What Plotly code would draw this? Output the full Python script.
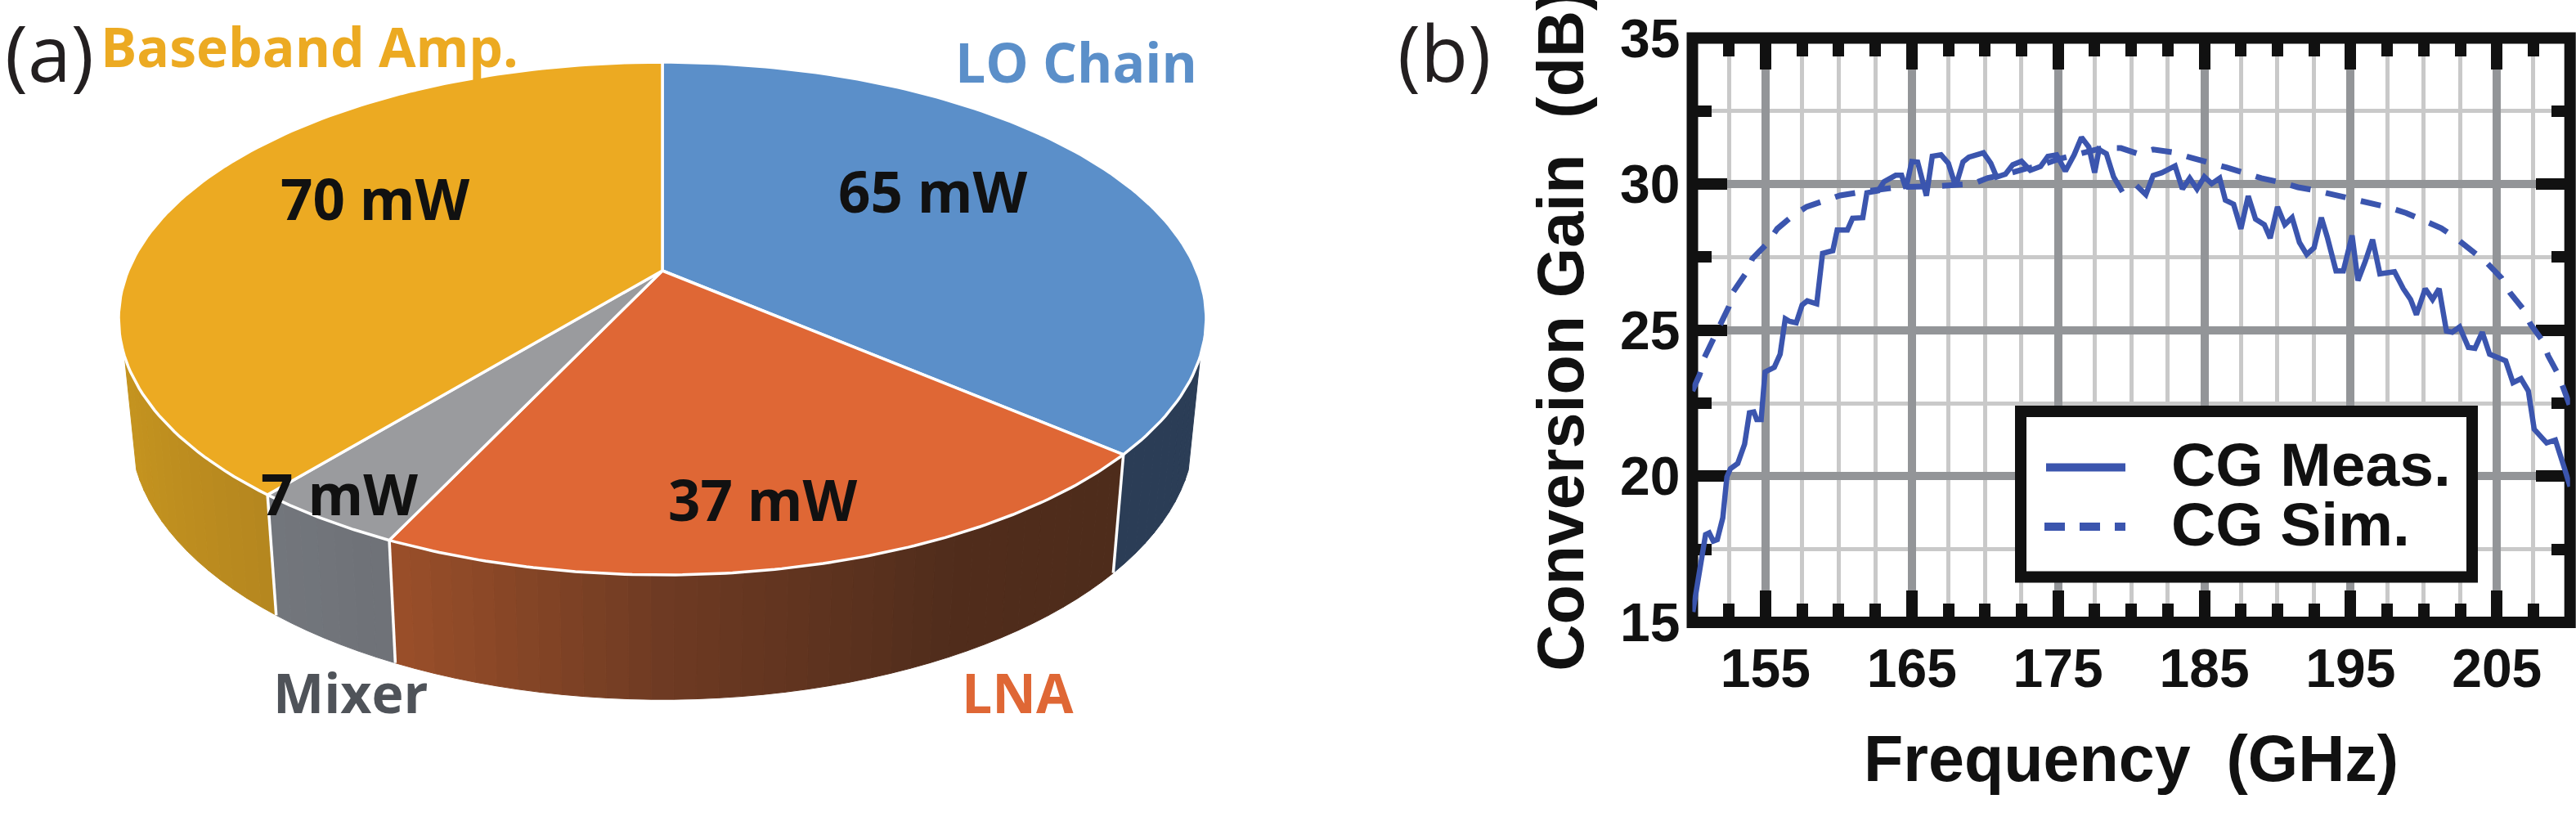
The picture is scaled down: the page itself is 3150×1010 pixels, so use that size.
import numpy as np
import plotly.graph_objects as go

# ---------- data ----------
slice_names = ["LO Chain", "LNA", "Mixer", "Baseband Amp."]
slice_mw = [65, 37, 7, 70]
slice_top = ["#5B8FC9", "#DF6735", "#9A9B9E", "#ECAA22"]
# wall shading stops: (sin(theta), colour)
slice_wall = [
    [(-1.0, "#2B3D56"), (1.0, "#2B3D56")],
    [(-0.43, "#9C502A"), (0.0, "#6F3B23"), (0.45, "#512D1C"), (1.0, "#4C2C1B")],
    [(-1.0, "#7B7F85"), (-0.43, "#6F7278")],
    [(-1.0, "#C8961F"), (-0.63, "#B5871F")],
]
slice_value_text = ["65 mW", "37 mW", "7 mW", "70 mW"]

freq_meas = [150.03, 150.9, 151.15, 151.43, 151.7, 152.08, 152.36, 152.6, 153.1, 153.57, 153.9, 154.2, 154.4, 154.7,
             154.97, 155.25, 155.6, 156.0, 156.35, 156.65, 157.1, 157.5, 157.85, 158.5, 158.9, 159.6, 159.9, 160.6,
             160.95, 161.65, 161.93, 162.7, 163.1, 163.9, 164.3, 164.6, 165.0, 165.4, 166.0, 166.4, 167.0, 167.5,
             168.0, 168.5, 168.9, 169.9, 170.4, 170.8, 171.4, 171.9, 172.5, 173.1, 173.8, 174.3, 174.9, 175.5, 176.1,
             176.6, 177.1, 177.5, 177.8, 178.3, 178.8, 179.4, 179.9,
             180.36, 181.0, 181.5, 182.1, 183.0, 183.5, 184.0, 184.5, 185.0, 185.5, 186.05, 186.44, 187.0, 187.5,
             188.0, 188.5, 189.1, 189.5, 190.0, 190.5, 191.0, 191.5, 192.0, 192.5, 193.0, 193.4, 194.0, 194.5, 195.1,
             195.5, 196.0, 196.5, 197.0, 198.0, 198.6, 199.1, 199.5, 200.1, 200.6, 201.05, 201.55, 201.95, 202.45,
             203.05, 203.5, 204.0, 204.5, 205.6, 206.1, 206.65, 207.15, 207.55, 208.4, 209.0, 209.6, 210.0]
gain_meas = [15.36, 18.0, 18.06, 17.78, 17.83, 18.58, 19.98, 20.26, 20.44, 21.1, 22.17, 22.2, 21.94, 21.94,
             23.57, 23.62, 23.73, 24.18, 25.39, 25.3, 25.25, 25.86, 26.0, 25.9, 27.63, 27.72, 28.43, 28.43,
             28.83, 28.85, 29.7, 29.77, 30.08, 30.3, 30.3, 29.85, 30.77, 30.75, 29.6, 30.95, 31.0, 30.71,
             29.92, 30.76, 30.92, 31.07, 30.71, 30.24, 30.34, 30.66, 30.78, 30.47, 30.6, 30.95, 31.0, 30.44, 31.0,
             31.6, 31.27, 30.39, 31.18, 31.04, 30.24, 29.73, None,
             29.95, 29.64, 30.29, 30.39, 30.62, 29.83, 30.2, 29.83, 30.25, 30.01, 30.2, 29.45, 29.31, 28.47,
             29.59, 28.8, 28.61, 28.15, 29.22, 28.61, 28.85, 28.0, 27.59, 27.82, 28.85, 28.19, 27.03, 27.03, 28.24,
             26.7, 27.35, 28.1, 26.93, 27.0, 26.42, 26.05, 25.53, 26.42, 26.05, 26.42, 24.97, 24.93, 25.11,
             24.41, 24.38, 24.93, 24.18, 23.95, 23.2, 23.34, 22.92, 21.61, 21.14, 21.24, 20.3, 19.65]

freq_sim = [150.0, 150.5, 150.8, 151.4, 151.8, 152.5, 152.8, 153.7, 154.1, 155.1, 155.8, 156.8, 157.8, 159.1, 160.1,
            161.6, 164.1, 166.5, 168.1, 169.2, 170.2, 171.5, 172.8, 173.6, 175.0, 176.5, 178.0, 179.3, 180.45, 181.5,
            182.8, 184.1, 185.3, 186.5, 187.7, 188.9, 190.2, 191.4, 192.6, 193.9, 195.1, 196.4, 197.6, 198.8, 200.0,
            201.2, 202.2, 203.3, 204.3, 205.3, 205.9, 206.8, 207.3, 208.1, 208.5, 209.2, 209.6, 210.0]
gain_sim = [22.92, 23.48, 24.04, 24.69, 25.16, 25.81, 26.32, 26.98, 27.45, 27.96, 28.47, 28.89, 29.22, 29.45, 29.61,
            29.73, 29.9, 29.92, 29.97, 30.01, 30.21, 30.34, 30.53, 30.6, 30.85, 31.05, 31.23, 31.23, 31.04, 31.18,
            31.09, 30.9, 30.71, 30.57, 30.39, 30.2, 30.06, 29.89, 29.78, 29.64, 29.5, 29.36, 29.2, 29.01, 28.75,
            28.49, 28.15, 27.73, 27.31, 26.79, 26.28, 25.72, 25.2, 24.65, 24.13, 23.48, 22.92, 22.4]

series_names = ["CG Meas.", "CG Sim."]
x_title = "Frequency  (GHz)"
y_title = "Conversion Gain  (dB)"

# ---------- geometry ----------
W, H = 3150, 1010
CURVE = "#3B55AE"
INK = "#111111"
ARIAL = "Liberation Sans"
SANS = "Open Sans"

# perspective model of the pie disc
CX, CY = 810.0, 331.0
A, B, K = 653.3, 302.6, 0.1866
S_X, S_Y, CY_BOT = 0.978, 1.05, 464.6
WALL_FROM, WALL_TO = 109.0, 251.0


def top_pt(deg):
    t = np.radians(deg)
    d = 1 + K * np.cos(t)
    return CX + A * np.sin(t) / d, CY - B * np.cos(t) / d


def bot_pt(deg):
    t = np.radians(deg)
    d = 1 + K * np.cos(t)
    return CX + S_X * A * np.sin(t) / d, CY_BOT - S_Y * B * np.cos(t) / d


def rgb(h):
    return [int(h[i:i + 2], 16) for i in (1, 3, 5)]


def shade(stops, s):
    xs = [p[0] for p in stops]
    cols = np.array([rgb(p[1]) for p in stops], float)
    return "rgb(%d,%d,%d)" % tuple(np.interp(s, xs, cols[:, i]) for i in range(3))


fig = go.Figure()
bounds = np.concatenate([[0], np.cumsum(slice_mw)]) / sum(slice_mw) * 360


def poly(x, y, fill, line, width):
    fig.add_trace(go.Scatter(x=x, y=y, mode="lines", fill="toself", fillcolor=fill,
                             line=dict(color=line, width=width), xaxis="x2", yaxis="y2",
                             hoverinfo="skip", showlegend=False))


# side walls
for i in range(4):
    lo, hi = max(bounds[i], WALL_FROM), min(bounds[i + 1], WALL_TO)
    if hi <= lo:
        continue
    edges = np.linspace(lo, hi, max(2, int((hi - lo) / 2) + 1))
    for a0, a1 in zip(edges[:-1], edges[1:]):
        c = shade(slice_wall[i], np.sin(np.radians((a0 + a1) / 2)))
        x0, y0 = top_pt(a0); x1, y1 = top_pt(a1)
        x2, y2 = bot_pt(a1); x3, y3 = bot_pt(a0)
        poly([x0, x1, x2, x3, x0], [y0, y1, y2, y3, y0], c, c, 1)

# white separators on the wall
for deg in bounds[1:4]:
    x0, y0 = top_pt(deg); x1, y1 = bot_pt(deg)
    fig.add_trace(go.Scatter(x=[x0, x1], y=[y0, y1], mode="lines", line=dict(color="white", width=3.5),
                             xaxis="x2", yaxis="y2", hoverinfo="skip", showlegend=False))

# top faces
for i in range(4):
    degs = np.linspace(bounds[i], bounds[i + 1], 120)
    px, py = top_pt(degs)
    poly(np.r_[CX, px, CX], np.r_[CY, py, CY], slice_top[i], "white", 3.5)

# curves
fig.add_trace(go.Scatter(x=freq_meas, y=gain_meas, name=series_names[0], mode="lines",
                         line=dict(color=CURVE, width=6.5), showlegend=False, connectgaps=False))
fig.add_trace(go.Scatter(x=freq_sim, y=gain_sim, name=series_names[1], mode="lines",
                         line=dict(color=CURVE, width=7, dash="25px,19px"), showlegend=False))


def fx(px):
    return px / W


def fy(py):
    return 1 - py / H


L, R, T, Bm = 2069.5, 3142.7, 46.4, 761.0

common = dict(showline=False, zeroline=False, ticks="inside", mirror="allticks", tickwidth=14,
              tickcolor=INK, layer="below traces", gridcolor="#939598", gridwidth=10,
              tickfont=dict(family=ARIAL, size=66, color=INK, weight=700))

fig.update_layout(
    width=W, height=H, margin=dict(l=0, r=0, t=0, b=0, autoexpand=False),
    paper_bgcolor="white", plot_bgcolor="white", showlegend=False,
    xaxis=dict(domain=[fx(L), fx(R)], range=[150, 210], tick0=155, dtick=10, ticklen=39,
               tickangle=0, ticklabelstandoff=12,
               title=dict(text=x_title, standoff=46, font=dict(family=ARIAL, size=79, color=INK, weight=700)),
               minor=dict(tick0=150, dtick=2.5, ticks="inside", ticklen=23, tickwidth=14, tickcolor=INK,
                          showgrid=True, gridcolor="#C9C9C9", gridwidth=5),
               **common),
    yaxis=dict(domain=[fy(Bm), fy(T)], range=[15, 35], tick0=15, dtick=5, ticklen=42,
               ticklabelstandoff=14,
               title=dict(text=y_title, standoff=18, font=dict(family=ARIAL, size=79, color=INK, weight=700)),
               minor=dict(tick0=15, dtick=2.5, ticks="inside", ticklen=23, tickwidth=14, tickcolor=INK,
                          showgrid=True, gridcolor="#C9C9C9", gridwidth=5),
               **common),
    xaxis2=dict(domain=[0, 1600 / W], range=[0, 1600], visible=False, anchor="y2"),
    yaxis2=dict(domain=[0, 1], range=[H, 0], visible=False, anchor="x2"),
)

# frame and legend
shapes = [
    dict(type="rect", xref="paper", yref="paper", x0=fx(L), x1=fx(R), y0=fy(Bm), y1=fy(T),
         line=dict(color=INK, width=14), fillcolor="rgba(0,0,0,0)", layer="between"),
    dict(type="rect", xref="paper", yref="paper", x0=fx(2471), x1=fx(3023), y0=fy(705.5), y1=fy(503),
         line=dict(color=INK, width=14), fillcolor="white", layer="above"),
    dict(type="line", xref="paper", yref="paper", x0=fx(2502), x1=fx(2599), y0=fy(571.5), y1=fy(571.5),
         line=dict(color=CURVE, width=10), layer="above"),
    dict(type="line", xref="paper", yref="paper", x0=fx(2500), x1=fx(2599), y0=fy(644), y1=fy(644),
         line=dict(color=CURVE, width=10, dash="25px,18px"), layer="above"),
]
fig.update_layout(shapes=shapes)


def note(text, x, y, size, color=INK, family=SANS, weight=700, anchor="center"):
    fig.add_annotation(text=text, x=fx(x), y=fy(y), xref="paper", yref="paper", showarrow=False,
                       xanchor=anchor, yanchor="middle", align="left",
                       font=dict(family=family, size=size, color=color, weight=weight))


note(series_names[0], 2653, 568, 75, family=ARIAL, anchor="left")
note(series_names[1], 2653, 641, 75, family=ARIAL, anchor="left")
note("(a)", 60, 63, 95, color="#231F20", weight=400)
note("(b)", 1766, 63, 95, color="#231F20", weight=400)

label_pos = [(1316, 75), (1244, 846), (429, 846), (378, 56)]
label_col = ["#5B8FC9", "#DF6735", "#4F5359", "#ECAA22"]
for name, (lx, ly), col in zip(slice_names, label_pos, label_col):
    note(name, lx, ly, 66, color=col)
value_pos = [(1141, 233), (933, 610), (415, 603), (459, 242)]
for txt, (lx, ly) in zip(slice_value_text, value_pos):
    note(txt, lx, ly, 69)

fig.write_html("out.html", config={"displayModeBar": False},
               post_script="document.body.style.margin='0';document.body.style.overflow='hidden';")
